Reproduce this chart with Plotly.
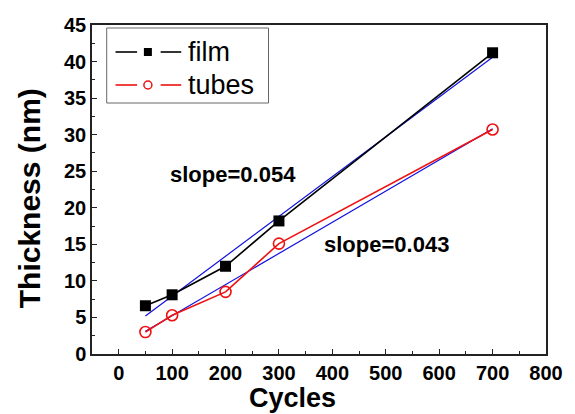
import plotly.graph_objects as go

# ---- data ----
cycles = [50, 100, 200, 300, 700]
film = [6.6, 8.1, 12.0, 18.2, 41.2]
tubes = [3.0, 5.3, 8.5, 15.1, 30.7]
fit_x = [50, 700]
film_fit = [5.2, 40.6]
tubes_fit = [3.1, 30.8]
x_ticks = [0, 100, 200, 300, 400, 500, 600, 700, 800]
y_ticks = [0, 5, 10, 15, 20, 25, 30, 35, 40, 45]
legend_names = ["film", "tubes"]
slope_labels = ["slope=0.054", "slope=0.043"]
slope_pos = [(214, 24.5), (502, 14.95)]

W, H = 575, 414
L, R, T, B = 92, 20, 25, 60
PW, PH = W - L - R, H - T - B

def px(x):
    return (x - L) / PW

def py(y):
    return (H - B - y) / PH

FONT = "Liberation Sans, Arial, sans-serif"

fig = go.Figure()
fig.add_trace(go.Scatter(x=fit_x, y=film_fit, mode="lines",
                         line=dict(color="#1010e0", width=1.2), showlegend=False))
fig.add_trace(go.Scatter(x=fit_x, y=tubes_fit, mode="lines",
                         line=dict(color="#1010e0", width=1.2), showlegend=False))
fig.add_trace(go.Scatter(x=cycles, y=film, mode="lines+markers", name=legend_names[0],
                         line=dict(color="black", width=1.6),
                         marker=dict(symbol="square", size=11, color="black"),
                         showlegend=False))
fig.add_trace(go.Scatter(x=cycles, y=tubes, mode="lines+markers", name=legend_names[1],
                         line=dict(color="#ee1111", width=1.6),
                         marker=dict(symbol="circle-open", size=11, color="#ee1111",
                                     line=dict(width=1.6)),
                         showlegend=False))

shapes = []
annotations = []
# legend box
shapes.append(dict(type="rect", xref="paper", yref="paper",
                   x0=px(107), x1=px(272), y0=py(103), y1=py(28),
                   line=dict(color="#666666", width=1), fillcolor="white"))
rows = [(52, "black", "square"), (85, "#ee1111", "circle")]
for (ry, col, sym), name in zip(rows, legend_names):
    for a, b in [(116, 138), (162, 183)]:
        shapes.append(dict(type="line", xref="paper", yref="paper",
                           x0=px(a), x1=px(b), y0=py(ry), y1=py(ry),
                           line=dict(color=col, width=1.6)))
    if sym == "square":
        shapes.append(dict(type="rect", xref="paper", yref="paper",
                           xsizemode="pixel", ysizemode="pixel",
                           xanchor=px(149), yanchor=py(ry),
                           x0=-4, x1=4, y0=-4, y1=4,
                           line=dict(color=col, width=0), fillcolor=col))
    else:
        shapes.append(dict(type="circle", xref="paper", yref="paper",
                           xsizemode="pixel", ysizemode="pixel",
                           xanchor=px(149), yanchor=py(ry),
                           x0=-4, x1=4, y0=-4, y1=4,
                           line=dict(color=col, width=1.5), fillcolor="white"))
    annotations.append(dict(text=name, xref="paper", yref="paper",
                            x=px(188), y=py(ry), xanchor="left", yanchor="middle",
                            showarrow=False,
                            font=dict(family=FONT, size=27, color="black")))

for lab, (sx, sy) in zip(slope_labels, slope_pos):
    annotations.append(dict(text=lab, x=sx, y=sy, xref="x", yref="y",
                            showarrow=False,
                            font=dict(family=FONT, size=22, color="black", weight="bold")))

annotations.append(dict(text="Cycles", xref="paper", yref="paper",
                        x=px(296), y=py(415), xanchor="center", yanchor="bottom",
                        showarrow=False,
                        font=dict(family=FONT, size=27, color="black", weight="bold")))
annotations.append(dict(text="Thickness (nm)", xref="paper", yref="paper",
                        x=px(28), y=py(198), xanchor="center", yanchor="middle",
                        textangle=-90, showarrow=False,
                        font=dict(family=FONT, size=30, color="black", weight="bold")))

axis_common = dict(showline=True, linecolor="#222222", linewidth=1.5, mirror=True,
                   ticks="inside", ticklen=5, tickwidth=1.3, tickcolor="#222222",
                   showgrid=False, zeroline=False,
                   tickfont=dict(family=FONT, size=20, color="black", weight="bold"))

fig.update_layout(
    width=W, height=H,
    margin=dict(l=L, r=R, t=T, b=B),
    paper_bgcolor="white", plot_bgcolor="white",
    showlegend=False,
    xaxis=dict(range=[-50, 800], tickvals=x_ticks,
               minor=dict(ticks="inside", ticklen=3, dtick=50, tick0=0,
                          tickcolor="#222222", tickwidth=1.2),
               **axis_common),
    yaxis=dict(range=[0, 45], tickvals=y_ticks,
               minor=dict(ticks="inside", ticklen=3, dtick=2.5, tick0=0,
                          tickcolor="#222222", tickwidth=1.2),
               **axis_common),
    shapes=shapes,
    annotations=annotations,
)

fig.write_html("out.html")
